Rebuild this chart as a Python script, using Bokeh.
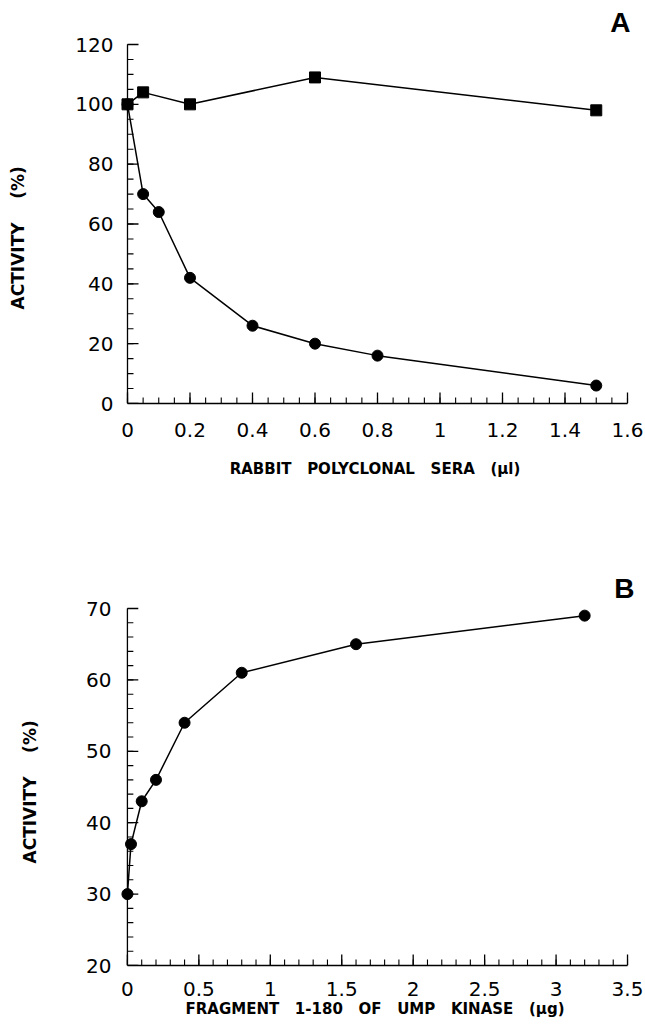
from bokeh.plotting import figure
from bokeh.layouts import column
from bokeh.models import FixedTicker, CustomJSTickFormatter
from bokeh.embed import file_html
from bokeh.resources import INLINE

# ---------------- data ----------------
# Panel A
a_square_x = [0, 0.05, 0.2, 0.6, 1.5]
a_square_y = [100, 104, 100, 109, 98]
a_circle_x = [0, 0.05, 0.1, 0.2, 0.4, 0.6, 0.8, 1.5]
a_circle_y = [100, 70, 64, 42, 26, 20, 16, 6]
a_xticks = [0, 0.2, 0.4, 0.6, 0.8, 1, 1.2, 1.4, 1.6]
a_yticks = [0, 20, 40, 60, 80, 100, 120]

# Panel B
b_x = [0, 0.025, 0.1, 0.2, 0.4, 0.8, 1.6, 3.2]
b_y = [30, 37, 43, 46, 54, 61, 65, 69]
b_xticks = [0, 0.5, 1, 1.5, 2, 2.5, 3, 3.5]
b_yticks = [20, 30, 40, 50, 60, 70]

NB = "\u00a0"
a_xtitle = (NB * 3).join(["RABBIT", "POLYCLONAL", "SERA", "(\u00b5l)"])
b_xtitle = (NB * 3).join(["FRAGMENT", "1-180", "OF", "UMP", "KINASE", "(\u00b5g)"])
a_ytitle = "ACTIVITY" + NB * 4 + "(%)" + NB * 5
b_ytitle = "ACTIVITY" + NB * 4 + "(%)" + NB * 2

fmt = CustomJSTickFormatter(code="return String(Math.round(tick*10)/10);")


def minor(start, stop, step):
    n = int(round((stop - start) / step))
    return [round(start + i * step, 4) for i in range(n + 1)]


def make_panel(letter, xmax, ymin, ymax, xt, xminor, yt, yminor,
               xtitle, ytitle, frame_w, frame_h, left, top, bottom, height,
               xlab_standoff, xtitle_standoff, ylab_standoff, ytitle_standoff,
               title_standoff, title_offset):
    pad = 7   # px of frame left of the y axis so markers at x=0 are not clipped
    epad = 2  # px of frame beyond the axis ends so end ticks are not clipped
    ux = xmax / frame_w
    uy = (ymax - ymin) / frame_h
    p = figure(width=645, height=height, output_backend="svg",
               toolbar_location=None,
               x_range=(-pad * ux, xmax + epad * ux),
               y_range=(ymin, ymax + epad * uy), title=letter,
               x_axis_label=xtitle, y_axis_label=ytitle,
               min_border_left=left - pad,
               min_border_right=645 - left - frame_w - epad,
               min_border_top=top - epad, min_border_bottom=bottom)
    p.background_fill_color = "white"
    p.border_fill_color = "white"
    p.outline_line_color = None
    p.xgrid.visible = False
    p.ygrid.visible = False

    p.xaxis.ticker = FixedTicker(ticks=xt, minor_ticks=[])
    p.yaxis.ticker = FixedTicker(ticks=yt, minor_ticks=[])
    p.xaxis.formatter = fmt
    p.yaxis.formatter = fmt
    p.xaxis.bounds = (0, xmax)
    for ax in (p.xaxis[0], p.yaxis[0]):
        ax.axis_line_color = "black"
        ax.axis_line_width = 1.3
        ax.major_tick_in = 0
        ax.major_tick_out = 0
        ax.minor_tick_in = 0
        ax.minor_tick_out = 0
        ax.major_tick_line_color = None
        ax.minor_tick_line_color = None
        ax.major_label_text_font = "DejaVu Sans"
        ax.major_label_text_font_size = "20px"
        ax.major_label_text_color = "black"
        ax.axis_label_text_font = "DejaVu Sans"
        ax.axis_label_text_font_style = "bold"
        ax.axis_label_text_color = "black"
    p.yaxis.axis_line_color = None  # drawn at x = 0 below
    p.xaxis.major_label_standoff = xlab_standoff
    p.xaxis.axis_label_standoff = xtitle_standoff
    p.xaxis.axis_label_text_font_size = "15px"
    p.yaxis.major_label_standoff = ylab_standoff - pad
    p.yaxis.axis_label_standoff = ytitle_standoff
    p.yaxis.axis_label_text_font_size = "17px"

    p.title.text_font = "Liberation Sans"
    p.title.text_font_style = "bold"
    p.title.text_font_size = "28px"
    p.title.align = "right"
    p.title.standoff = title_standoff
    p.title.offset = title_offset
    p.title.text_color = "black"

    # y axis line at x = 0
    p.segment(x0=[0], y0=[ymin], x1=[0], y1=[ymax], line_color="black",
              line_width=1.3)
    # inward ticks drawn through the data scales
    maj, mnr = 11, 6
    p.segment(x0=xt, y0=[ymin] * len(xt), x1=xt, y1=[ymin + maj * uy] * len(xt),
              line_color="black", line_width=1.3)
    p.segment(x0=xminor, y0=[ymin] * len(xminor), x1=xminor,
              y1=[ymin + mnr * uy] * len(xminor), line_color="black", line_width=1.1)
    p.segment(x0=[0] * len(yt), y0=yt, x1=[maj * ux] * len(yt), y1=yt,
              line_color="black", line_width=1.3)
    p.segment(x0=[0] * len(yminor), y0=yminor, x1=[mnr * ux] * len(yminor),
              y1=yminor, line_color="black", line_width=1.1)
    return p


# ---------------- panel A ----------------
pa = make_panel("A", 1.6, 0, 120, a_xticks, minor(0, 1.6, 0.05), a_yticks,
                minor(0, 120, 5), a_xtitle, a_ytitle,
                frame_w=500, frame_h=359, left=127, top=44, bottom=97, height=500,
                xlab_standoff=19, xtitle_standoff=20, ylab_standoff=14,
                ytitle_standoff=44, title_standoff=9, title_offset=-1)
pa.line(a_circle_x, a_circle_y, line_color="black", line_width=1.5)
pa.scatter(a_circle_x, a_circle_y, marker="circle", size=11,
           fill_color="black", line_color="black")
pa.line(a_square_x, a_square_y, line_color="black", line_width=1.5)
pa.scatter(a_square_x, a_square_y, marker="square", size=11,
           fill_color="black", line_color="black")

# ---------------- panel B ----------------
pb = make_panel("B", 3.5, 20, 70, b_xticks, minor(0, 3.5, 0.1), b_yticks,
                minor(20, 70, 2), b_xtitle, b_ytitle,
                frame_w=506, frame_h=357, left=122, top=108, bottom=70, height=535,
                xlab_standoff=16, xtitle_standoff=1, ylab_standoff=16,
                ytitle_standoff=43, title_standoff=6, title_offset=-5)
pb.line(b_x, b_y, line_color="black", line_width=1.5)
pb.scatter(b_x, b_y, marker="circle", size=11,
           fill_color="black", line_color="black")

layout = column(pa, pb, spacing=0)
open("out.html", "w").write(file_html(layout, INLINE))
